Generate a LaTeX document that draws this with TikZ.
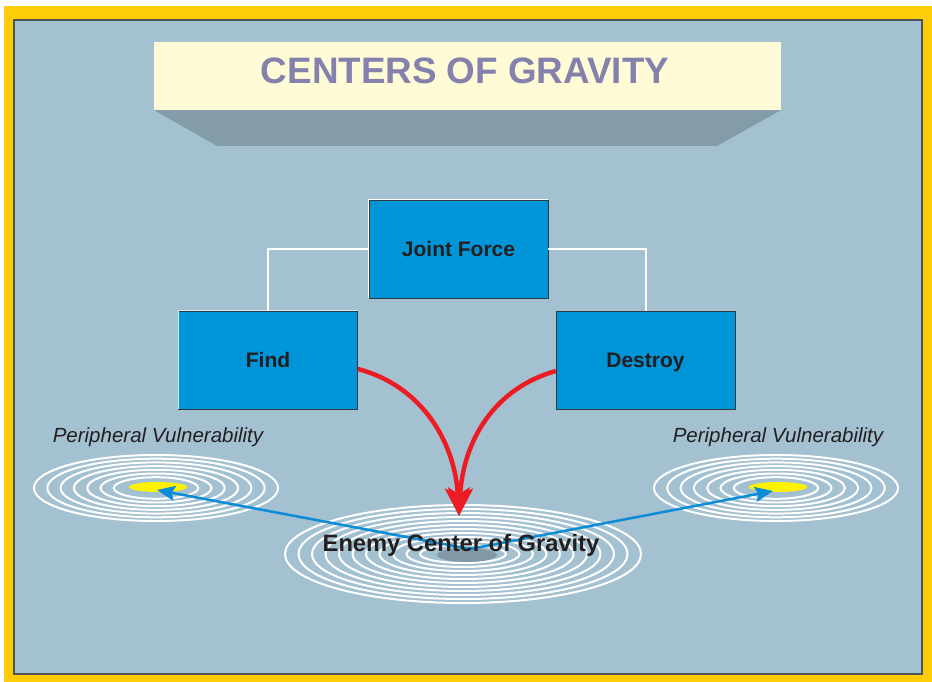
\documentclass[tikz,border=0pt]{standalone}
\usepackage{fontspec}
\setmainfont{Liberation Sans}
\usepackage{tikz}
\usetikzlibrary{positioning}
\usetikzlibrary{arrows.meta}

\definecolor{frameyellow}{HTML}{FFCC08}
\definecolor{panelblue}{HTML}{A3C1D1}
\definecolor{paneledge}{HTML}{4F5556}
\definecolor{titlefill}{HTML}{FFFBD7}
\definecolor{titleshade}{HTML}{839CA8}
\definecolor{titleink}{HTML}{8481AD}
\definecolor{boxblue}{HTML}{0095D9}
\definecolor{boxedge}{HTML}{2E3A40}
\definecolor{inkdark}{HTML}{231F20}
\definecolor{arrowred}{HTML}{ED1C24}
\definecolor{arrowblue}{HTML}{0C8BD6}
\definecolor{coregray}{HTML}{8399A6}
\definecolor{coreyellow}{HTML}{FFF200}

\begin{document}
\begin{tikzpicture}[x=1pt, y=-1pt,
    unitbox/.style={draw=boxedge, fill=boxblue, minimum width=179pt, minimum height=98pt,
        inner sep=0pt, text height=15pt, text depth=0pt, text=inkdark,
        font=\bfseries\fontsize{21}{24}\selectfont},
    linkline/.style={draw=white, line width=2pt},
    ring/.style={draw=white, line width=2pt},
    redarrow/.style={draw=arrowred, line width=4.5pt,
        -{Stealth[length=28pt, width=25pt, inset=7pt]}},
    bluearrow/.style={draw=arrowblue, line width=2.5pt,
        -{Stealth[length=18pt, width=15pt, inset=3pt]}},
    vullabel/.style={text=inkdark, font=\itshape\fontsize{20.5}{24}\selectfont}]

    % Frame and panel
    \useasboundingbox (0,0) rectangle (932,682);
    \fill[white] (0,0) rectangle (932,682);
    \fill[frameyellow] (4,6) rectangle (932,682);
    \draw[fill=panelblue, draw=paneledge, line width=1.5pt] (14,20) rectangle (922,674);

    % Title plate
    \fill[titleshade] (154,110) -- (781,110) -- (717,146) -- (217,146) -- cycle;
    \node[fill=titlefill, minimum width=627pt, minimum height=68pt, inner sep=0pt]
        (title) at (467.5,76) {};
    \node[text=titleink, font=\bfseries\fontsize{36.8}{40}\selectfont] (titletext)
        at (465,71) {CENTERS OF GRAVITY};

    % Boxes
    \node[unitbox] (joint) at (458.5,249) {Joint Force};
    \node[unitbox] (find) at (268,360) {Find};
    \node[unitbox] (destroy) at (645.5,360) {Destroy};
    \draw[white, line width=1pt] (joint.south west) -- (joint.north west) -- (joint.north east);
    \draw[white!80!boxblue, line width=1pt] (find.south west) -- (find.north west) -- (find.north east);

    % Links
    \draw[linkline] (joint.west) -| (find.north);
    \draw[linkline] (joint.east) -| (destroy.north);

    % Rings
    \foreach \i in {0,...,10}
        \draw[ring] (463,554) ellipse [x radius={178-13.5*\i}, y radius={49-4*\i}];
    \fill[coregray] (467,555) ellipse [x radius=30, y radius=7];
    \foreach \c in {156,776}{
        \foreach \i in {0,...,6}
            \draw[ring] (\c,488) ellipse [x radius={122-13.3*\i}, y radius={33-3.7*\i}];
        \fill[coreyellow] (\c+2,487) ellipse [x radius=29, y radius=5];
    }

    \coordinate (cog) at (470,549);
    \coordinate (lcore) at (157,490);
    \coordinate (rcore) at (773,491);
    \coordinate (cogtop) at (459,516);

    % Arrows
    \draw[bluearrow] (cog) -- (lcore);
    \draw[bluearrow] (cog) -- (rcore);
    \draw[redarrow] ([yshift=-9pt]find.east) .. controls (420,385) and (455,440) .. (cogtop);
    \draw[redarrow] ([yshift=-11pt]destroy.west) .. controls (495,388) and (463,440) .. (cogtop);

    % Labels
    \node[vullabel] (lvul) at (158,437) {Peripheral Vulnerability};
    \node[vullabel] (rvul) at (778,437) {Peripheral Vulnerability};
    \node[text=inkdark, font=\bfseries\fontsize{23.7}{28}\selectfont] (cogtext)
        at (461,545) {Enemy Center of Gravity};
\end{tikzpicture}
\end{document}
